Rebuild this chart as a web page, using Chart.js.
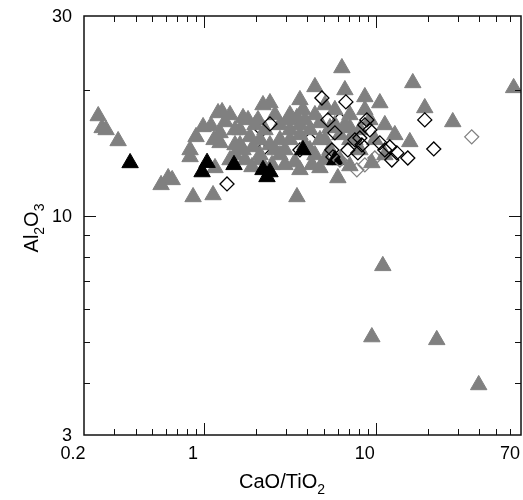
<!DOCTYPE html>
<html>
<head>
<meta charset="utf-8">
<script src="https://cdn.jsdelivr.net/npm/chart.js@4.4.0/dist/chart.umd.min.js"></script>
<style>
  html, body { margin: 0; padding: 0; background: #fff; }
  #wrap { width: 523px; height: 500px; }
</style>
</head>
<body>
<div id="wrap"><canvas id="chart" width="523" height="500"></canvas></div>
<script>
// [CaO/TiO2, Al2O3] pairs
var grayTriangles = [
  [0.242, 17.32], [0.255, 16.22], [0.269, 16.04], [0.316, 15.10],
  [0.562, 11.86], [0.618, 12.32], [0.652, 12.19], [0.863, 11.10],
  [0.829, 14.37], [0.898, 15.44], [0.987, 16.31], [1.098, 16.40],
  [1.143, 15.19], [1.206, 17.61], [1.273, 17.71], [1.239, 15.78],
  [1.325, 16.76], [1.686, 17.14], [1.803, 16.95], [1.619, 16.04],
  [1.851, 15.44], [1.927, 14.61], [2.203, 18.40], [2.419, 18.60],
  [2.061, 16.95], [2.263, 16.04], [2.587, 17.42], [2.766, 16.49],
  [1.158, 13.02], [1.901, 13.09], [1.416, 13.60], [1.731, 13.60],
  [6.343, 22.55], [4.420, 20.32], [6.604, 19.98], [3.162, 17.42],
  [3.764, 17.91], [3.473, 17.14], [2.766, 15.19], [4.726, 16.67],
  [4.134, 16.04], [5.404, 16.22], [3.615, 15.61], [2.958, 14.37],
  [3.866, 14.77], [4.726, 15.19], [6.176, 15.61], [6.604, 16.49],
  [7.061, 17.42], [5.776, 17.91], [5.052, 18.40], [3.381, 13.45],
  [4.246, 13.24], [4.726, 13.02], [2.766, 13.98], [2.419, 14.77],
  [2.117, 15.19], [5.404, 14.37], [6.176, 13.60], [7.550, 15.19],
  [8.072, 16.04], [8.630, 19.23], [10.55, 18.60], [16.41, 20.77],
  [19.27, 18.10], [28.04, 16.76], [15.77, 15.02], [9.478, 13.38],
  [9.229, 16.95], [11.28, 16.49], [12.90, 15.61], [9.867, 15.19],
  [8.072, 14.37], [11.28, 13.98], [63.43, 20.21], [3.473, 11.10],
  [10.98, 7.60], [9.478, 5.14], [22.63, 5.06], [39.70, 3.95],
  [3.162, 16.04], [1.514, 14.77], [2.485, 13.24], [3.866, 16.95],
  [4.420, 13.98], [7.061, 13.16], [8.630, 17.91], [3.615, 18.92],
  [1.416, 17.42], [6.010, 12.32], [1.128, 11.22], [0.829, 13.83],
  [1.239, 14.94], [1.686, 14.37],
  [1.514, 16.04], [1.979, 16.49], [3.079, 16.95], [3.615, 16.49],
  [4.420, 17.42], [5.052, 15.19], [5.776, 16.49], [7.061, 15.19],
  [4.134, 14.37], [3.162, 15.19], [2.587, 14.37], [2.117, 13.98],
  [3.615, 12.88], [1.619, 14.77],
  [1.514, 13.98], [2.958, 13.24], [5.052, 13.60], [2.117, 13.60],
  [7.061, 16.22]
];
var blackTriangles = [
  [0.371, 13.38], [1.041, 13.40], [0.974, 12.73], [1.494, 13.24],
  [2.203, 12.88], [2.419, 12.73], [2.324, 12.39], [3.764, 14.37],
  [5.776, 13.60]
];
var blackDiamonds = [
  [1.360, 11.92], [2.419, 16.58], [4.853, 19.12], [6.693, 18.71],
  [19.27, 16.95], [21.74, 14.45], [5.260, 16.95], [5.776, 15.78],
  [8.072, 15.35], [5.550, 14.37], [5.623, 13.83], [8.865, 16.95],
  [8.630, 16.49], [7.550, 15.19], [6.874, 14.37], [7.859, 14.14],
  [10.55, 14.94], [11.28, 14.37], [12.06, 14.61], [13.25, 14.14],
  [15.35, 13.75], [12.39, 13.60], [9.229, 16.04], [8.290, 14.77]
];
var grayDiamonds = [
  [36.15, 15.44], [8.630, 13.24], [7.754, 12.88], [9.867, 13.75],
  [6.176, 13.60]
];
var coveredDiamonds = [
  [2.174, 14.37], [3.615, 14.37], [4.134, 15.19], [6.176, 16.95],
  [2.174, 16.04]
];

var xTicks = [0.3, 0.4, 0.5, 0.6, 0.7, 0.8, 0.9, 1, 2, 3, 4, 5, 6, 7, 8, 9, 10, 20, 30, 40, 50, 60];
var xMajor = [1, 10];
var xLabels = ['0.2', '1', '10', '70'];
var yTicks = [4, 5, 6, 7, 8, 9, 10, 20];
var yMajor = [10];
var yLabels = ['3', '10', '30'];

(function () {
  'use strict';

  var FONT = '"Liberation Sans", Arial, Helvetica, sans-serif';

  function toPoints(pairs) {
    return pairs.map(function (p) {
      return { x: p[0], y: p[1] };
    });
  }

  function drawSubText(ctx, parts, size) {
    var widths = parts.map(function (p) {
      ctx.font = (p[1] ? size * 0.7 : size) + 'px ' + FONT;
      return ctx.measureText(p[0]).width;
    });
    var total = widths.reduce(function (a, b) { return a + b; }, 0);
    var x = -total / 2;
    parts.forEach(function (p, i) {
      ctx.font = (p[1] ? size * 0.7 : size) + 'px ' + FONT;
      ctx.fillText(p[0], x, p[1] ? size * 0.28 : 0);
      x += widths[i];
    });
  }

  var framePlugin = {
    id: 'frame',
    afterDatasetsDraw: function (chart) {
      var ctx = chart.ctx;
      var a = chart.chartArea;
      var xs = chart.scales.x;
      var ys = chart.scales.y;
      ctx.save();
      ctx.strokeStyle = '#111';
      ctx.lineWidth = 1;
      ctx.beginPath();
      xTicks.forEach(function (v) {
        var px = Math.round(xs.getPixelForValue(v)) + 0.5;
        var len = xMajor.indexOf(v) >= 0 ? 12 : 6;
        ctx.moveTo(px, a.bottom);
        ctx.lineTo(px, a.bottom - len);
        ctx.moveTo(px, a.top);
        ctx.lineTo(px, a.top + len);
      });
      yTicks.forEach(function (v) {
        var py = Math.round(ys.getPixelForValue(v)) + 0.5;
        var len = yMajor.indexOf(v) >= 0 ? 12 : 6;
        ctx.moveTo(a.left, py);
        ctx.lineTo(a.left + len, py);
        ctx.moveTo(a.right, py);
        ctx.lineTo(a.right - len, py);
      });
      ctx.stroke();
      ctx.lineWidth = 1.5;
      ctx.strokeRect(a.left, a.top, a.right - a.left, a.bottom - a.top);
      ctx.restore();
    },
    afterDraw: function (chart) {
      var ctx = chart.ctx;
      var a = chart.chartArea;
      var xs = chart.scales.x;
      var ys = chart.scales.y;

      // tick labels (the original sets its x labels a little left of the ticks)
      ctx.save();
      ctx.fillStyle = '#000';
      ctx.font = '18px ' + FONT;
      ctx.textAlign = 'center';
      ctx.textBaseline = 'top';
      xLabels.forEach(function (t) {
        ctx.fillText(t, xs.getPixelForValue(parseFloat(t)) - 11, a.bottom + 10);
      });
      ctx.textAlign = 'right';
      ctx.textBaseline = 'middle';
      yLabels.forEach(function (t) {
        ctx.fillText(t, a.left - 12, ys.getPixelForValue(parseFloat(t)) + 1);
      });
      ctx.restore();

      ctx.save();
      ctx.fillStyle = '#000';
      ctx.textBaseline = 'alphabetic';
      ctx.textAlign = 'left';
      ctx.translate(a.left + 198, 488);
      drawSubText(ctx, [['CaO/TiO', false], ['2', true]], 20);
      ctx.restore();

      ctx.save();
      ctx.fillStyle = '#000';
      ctx.textBaseline = 'alphabetic';
      ctx.textAlign = 'left';
      ctx.translate(38, 228);
      ctx.rotate(-Math.PI / 2);
      drawSubText(ctx, [['Al', false], ['2', true], ['O', false], ['3', true]], 20);
      ctx.restore();
    }
  };

  new Chart(document.getElementById('chart'), {
    type: 'scatter',
    data: {
      datasets: [
        {
          label: 'open black',
          data: toPoints(blackDiamonds),
          pointStyle: 'rectRot',
          pointRadius: 7,
          backgroundColor: 'rgba(255,255,255,0)',
          borderColor: '#000',
          borderWidth: 1.3,
          order: 0
        },
        {
          label: 'open gray',
          data: toPoints(grayDiamonds),
          pointStyle: 'rectRot',
          pointRadius: 7,
          backgroundColor: 'rgba(255,255,255,0)',
          borderColor: '#808080',
          borderWidth: 1.3,
          order: 1
        },
        {
          label: 'black',
          data: toPoints(blackTriangles),
          pointStyle: 'triangle',
          pointRadius: 9.5,
          backgroundColor: '#000',
          borderColor: '#000',
          borderWidth: 1,
          order: 2
        },
        {
          label: 'gray',
          data: toPoints(grayTriangles),
          pointStyle: 'triangle',
          pointRadius: 9.5,
          backgroundColor: '#808080',
          borderColor: '#808080',
          borderWidth: 1,
          order: 3
        },
        {
          label: 'open black (under)',
          data: toPoints(coveredDiamonds),
          pointStyle: 'rectRot',
          pointRadius: 7,
          backgroundColor: 'rgba(255,255,255,0)',
          borderColor: '#000',
          borderWidth: 1.3,
          order: 4
        }
      ]
    },
    options: {
      responsive: false,
      animation: false,
      events: [],
      layout: {
        autoPadding: false,
        padding: { top: 16, right: 2, left: 0, bottom: 0 }
      },
      scales: {
        x: {
          type: 'logarithmic',
          min: 0.2,
          max: 70,
          afterFit: function (s) { s.height = 65; },
          grid: { display: false, drawTicks: false },
          border: { display: false },
          ticks: { display: false }
        },
        y: {
          type: 'logarithmic',
          min: 3,
          max: 30,
          afterFit: function (s) { s.width = 84; },
          grid: { display: false, drawTicks: false },
          border: { display: false },
          ticks: { display: false }
        }
      },
      plugins: {
        legend: { display: false },
        tooltip: { enabled: false }
      }
    },
    plugins: [framePlugin]
  });
})();
</script>
</body>
</html>
